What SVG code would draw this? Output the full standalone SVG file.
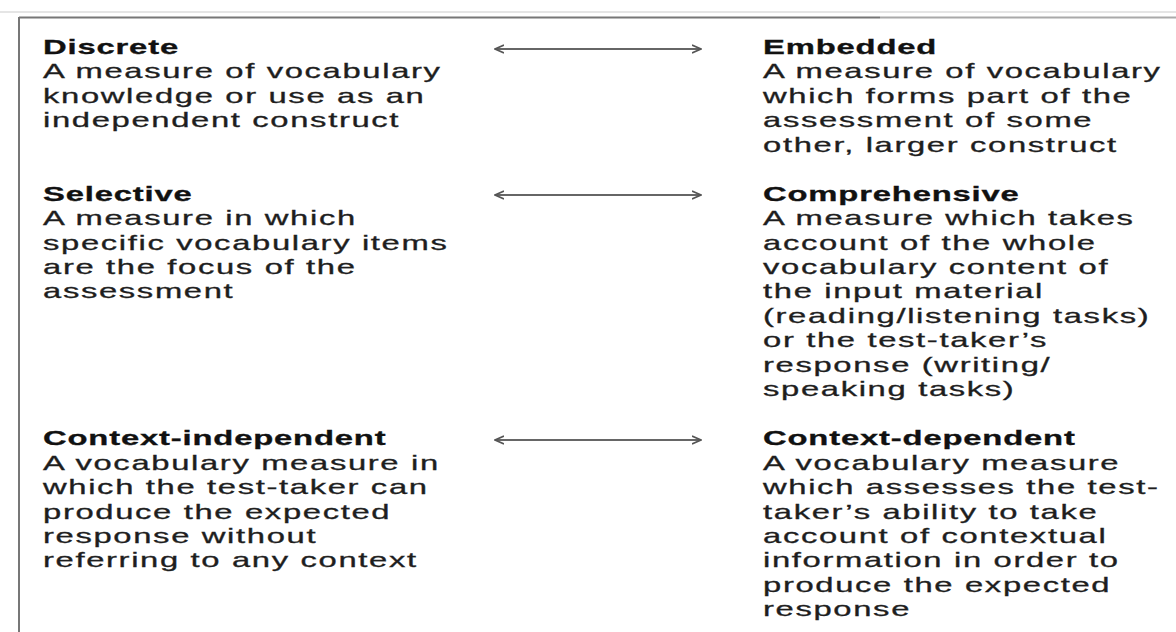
<svg xmlns="http://www.w3.org/2000/svg" width="1176" height="632" viewBox="0 0 1176 632">
<style>
.t{font-family:"Liberation Sans",Arial,sans-serif;font-size:20px;letter-spacing:1px;fill:#1e1e1e;stroke:#1e1e1e;stroke-width:0.3}
.h{font-weight:bold;letter-spacing:0.5px;fill:#111;stroke:#111}
.c{fill:none;stroke:#666;stroke-width:2}
</style>
<defs>
<marker id="ah" viewBox="0 0 10 10" refX="9" refY="5" markerWidth="10" markerHeight="10" markerUnits="userSpaceOnUse" orient="auto-start-reverse">
<path d="M0,1 L9,5 L0,9" fill="none" stroke="#555" stroke-width="1.6"/>
</marker>
</defs>
<rect width="1176" height="632" fill="#fff"/>
<g id="frame">
<line x1="0" y1="12" x2="1176" y2="12" stroke="#ddd" stroke-width="1.5"/>
<line x1="19" y1="17.5" x2="880" y2="17.5" stroke="#777" stroke-width="2"/>
<line x1="880" y1="17.5" x2="1176" y2="17.5" stroke="#aaa" stroke-width="2"/>
<line x1="19" y1="17" x2="19" y2="632" stroke="#777" stroke-width="2"/>
</g>
<g id="connectors">
<path class="c" d="M495,49 H701" marker-start="url(#ah)" marker-end="url(#ah)"/>
<path class="c" d="M495,195 H701" marker-start="url(#ah)" marker-end="url(#ah)"/>
<path class="c" d="M495,440 H701" marker-start="url(#ah)" marker-end="url(#ah)"/>
</g>
<g id="discrete" transform="translate(43,0) scale(1.64,1)">
<text class="t"><tspan class="h" x="0" y="54">Discrete</tspan><tspan x="0" y="78.45">A measure of vocabulary</tspan><tspan x="0" y="102.9">knowledge or use as an</tspan><tspan x="0" y="127.35">independent construct</tspan></text>
</g>
<g id="embedded" transform="translate(763,0) scale(1.64,1)">
<text class="t"><tspan class="h" x="0" y="54">Embedded</tspan><tspan x="0" y="78.45">A measure of vocabulary</tspan><tspan x="0" y="102.9">which forms part of the</tspan><tspan x="0" y="127.35">assessment of some</tspan><tspan x="0" y="151.8">other, larger construct</tspan></text>
</g>
<g id="selective" transform="translate(43,0) scale(1.64,1)">
<text class="t"><tspan class="h" x="0" y="200.7">Selective</tspan><tspan x="0" y="225.15">A measure in which</tspan><tspan x="0" y="249.6">specific vocabulary items</tspan><tspan x="0" y="274.05">are the focus of the</tspan><tspan x="0" y="298.5">assessment</tspan></text>
</g>
<g id="comprehensive" transform="translate(763,0) scale(1.64,1)">
<text class="t"><tspan class="h" x="0" y="200.7">Comprehensive</tspan><tspan x="0" y="225.15">A measure which takes</tspan><tspan x="0" y="249.6">account of the whole</tspan><tspan x="0" y="274.05">vocabulary content of</tspan><tspan x="0" y="298.5">the input material</tspan><tspan x="0" y="322.95">(reading/listening tasks)</tspan><tspan x="0" y="347.4">or the test-taker’s</tspan><tspan x="0" y="371.85">response (writing/</tspan><tspan x="0" y="396.3">speaking tasks)</tspan></text>
</g>
<g id="context-independent" transform="translate(43,0) scale(1.64,1)">
<text class="t"><tspan class="h" x="0" y="445.2">Context-independent</tspan><tspan x="0" y="469.65">A vocabulary measure in</tspan><tspan x="0" y="494.1">which the test-taker can</tspan><tspan x="0" y="518.55">produce the expected</tspan><tspan x="0" y="543">response without</tspan><tspan x="0" y="567.45">referring to any context</tspan></text>
</g>
<g id="context-dependent" transform="translate(763,0) scale(1.64,1)">
<text class="t"><tspan class="h" x="0" y="445.2">Context-dependent</tspan><tspan x="0" y="469.65">A vocabulary measure</tspan><tspan x="0" y="494.1">which assesses the test-</tspan><tspan x="0" y="518.55">taker’s ability to take</tspan><tspan x="0" y="543">account of contextual</tspan><tspan x="0" y="567.45">information in order to</tspan><tspan x="0" y="591.9">produce the expected</tspan><tspan x="0" y="616.35">response</tspan></text>
</g>
</svg>
